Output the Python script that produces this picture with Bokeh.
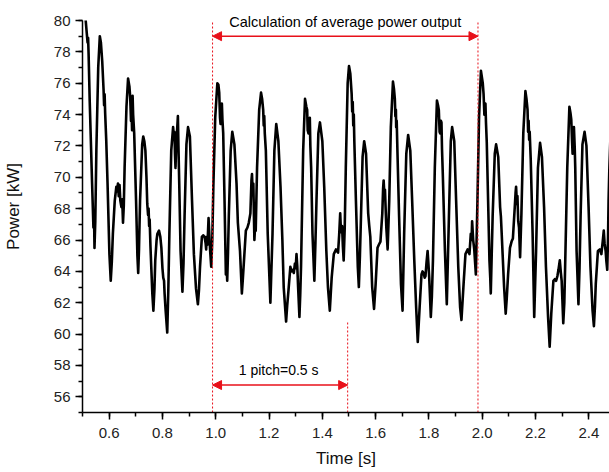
from bokeh.plotting import figure
from bokeh.models import (ColumnDataSource, Range1d, SingleIntervalTicker, PrintfTickFormatter,
                          Arrow, NormalHead, Label)
from bokeh.embed import file_html
from bokeh.resources import INLINE

# ---- data ----
time_s = [
    0.512, 0.516, 0.519, 0.521, 0.523, 0.527, 0.536, 0.541, 0.543, 0.545, 0.548, 0.552, 0.559, 0.565, 0.569,
    0.574, 0.579, 0.581, 0.583, 0.585, 0.589, 0.594, 0.601, 0.606, 0.610, 0.614, 0.621, 0.627, 0.630, 0.633,
    0.636, 0.639, 0.642, 0.646, 0.649, 0.652, 0.655, 0.658, 0.665, 0.671, 0.676, 0.679, 0.682, 0.684, 0.686,
    0.688, 0.690, 0.694, 0.701, 0.706, 0.709, 0.712, 0.716, 0.724, 0.728, 0.732, 0.736, 0.740, 0.743, 0.746,
    0.748, 0.750, 0.752, 0.755, 0.758, 0.762, 0.766, 0.770, 0.773, 0.778, 0.781, 0.787, 0.792, 0.796, 0.800,
    0.803, 0.806, 0.808, 0.812, 0.818, 0.822, 0.826, 0.833, 0.840, 0.843, 0.845, 0.847, 0.849, 0.851, 0.853,
    0.855, 0.858, 0.860, 0.863, 0.868, 0.875, 0.879, 0.883, 0.890, 0.896, 0.903, 0.911, 0.918, 0.926, 0.933,
    0.937, 0.941, 0.948, 0.953, 0.958, 0.962, 0.964, 0.966, 0.969, 0.973, 0.976, 0.979, 0.983,
    0.987, 0.991, 0.998, 1.006, 1.010, 1.013, 1.016, 1.018, 1.020, 1.023, 1.025, 1.028, 1.033, 1.038, 1.040,
    1.043, 1.046, 1.049, 1.056, 1.062, 1.070, 1.078, 1.083, 1.091, 1.098, 1.102, 1.106, 1.113, 1.119, 1.124,
    1.130, 1.134, 1.136, 1.138, 1.141, 1.143, 1.145, 1.148, 1.150, 1.155, 1.163, 1.170, 1.174, 1.178, 1.180,
    1.182, 1.184, 1.188, 1.195, 1.205, 1.213, 1.220, 1.227, 1.235, 1.243, 1.250, 1.255, 1.264, 1.268, 1.273,
    1.280, 1.284, 1.288, 1.293, 1.297, 1.300, 1.303, 1.306, 1.309, 1.314, 1.317, 1.320, 1.328, 1.335, 1.340,
    1.343, 1.345, 1.348, 1.350, 1.353, 1.355, 1.358, 1.363, 1.370, 1.374, 1.378, 1.385, 1.391, 1.400, 1.407,
    1.415, 1.421, 1.428, 1.431, 1.435, 1.443, 1.451, 1.459, 1.463, 1.467, 1.470, 1.474, 1.477, 1.480, 1.484,
    1.488, 1.495, 1.500,
    1.505, 1.510, 1.512, 1.514, 1.516, 1.518, 1.520, 1.526, 1.533, 1.537, 1.541, 1.545, 1.551, 1.557, 1.564,
    1.572, 1.576, 1.580, 1.587, 1.594, 1.600, 1.607, 1.612, 1.618, 1.625, 1.628, 1.630, 1.633, 1.635, 1.640,
    1.645, 1.651, 1.657, 1.665, 1.669, 1.672, 1.674, 1.676, 1.677, 1.679, 1.682, 1.688, 1.695, 1.701, 1.707,
    1.715, 1.722, 1.730, 1.737, 1.745, 1.752, 1.758, 1.765, 1.772, 1.776, 1.780, 1.784, 1.787, 1.791, 1.795,
    1.798, 1.801, 1.807, 1.811, 1.815, 1.822, 1.830, 1.834, 1.837, 1.840, 1.842, 1.845, 1.847, 1.849, 1.852,
    1.860, 1.867, 1.875, 1.882, 1.887, 1.895, 1.902, 1.910, 1.917, 1.922, 1.930, 1.937, 1.945, 1.952, 1.957,
    1.960, 1.962, 1.966, 1.970, 1.976, 1.982, 1.988, 1.995, 2.002, 2.005, 2.008, 2.010, 2.012, 2.014, 2.017,
    2.022, 2.027, 2.030, 2.032, 2.035, 2.039, 2.047, 2.052, 2.060, 2.067, 2.070, 2.073, 2.082, 2.088, 2.092,
    2.097, 2.104, 2.110, 2.115, 2.122, 2.125, 2.127, 2.130, 2.132, 2.135, 2.138, 2.142, 2.147, 2.154, 2.162,
    2.166, 2.170, 2.172, 2.174, 2.176, 2.178, 2.182, 2.189, 2.195, 2.202, 2.209, 2.217, 2.224, 2.232, 2.239,
    2.247, 2.253, 2.259, 2.267, 2.272, 2.277, 2.282, 2.286, 2.291, 2.295, 2.298, 2.304, 2.308, 2.311, 2.319,
    2.327, 2.331, 2.334, 2.337, 2.339, 2.342, 2.344, 2.347, 2.349, 2.354, 2.361, 2.365, 2.369, 2.376, 2.384,
    2.391, 2.399, 2.406, 2.414, 2.419, 2.423, 2.426, 2.434, 2.441, 2.447, 2.452, 2.456, 2.459, 2.463, 2.466,
    2.469, 2.472, 2.474, 2.477, 2.482,
]
power_kw = [
    80.0, 79.2, 78.6, 78.9, 77.8, 74.9, 69.6, 66.8, 67.9, 65.5, 67.2, 71.7, 77.0, 79.0, 78.6,
    77.4, 75.6, 74.6, 75.3, 74.1, 72.4, 69.6, 65.1, 63.4, 64.6, 66.4, 68.5, 69.4, 69.1, 69.6,
    68.8, 69.5, 68.5, 68.1, 68.6, 67.1, 68.2, 70.6, 74.5, 76.3, 75.8, 75.1, 73.6, 74.2, 73.0,
    75.2, 74.0, 72.8, 68.5, 65.0, 63.9, 65.4, 68.5, 72.1, 72.6, 72.3, 71.7, 70.0, 68.3, 67.6,
    68.0, 66.9, 67.3, 65.6, 64.3, 62.6, 61.5, 62.9, 64.7, 66.0, 66.4, 66.6, 66.2, 65.5, 64.2,
    63.6, 63.4, 62.6, 61.5, 60.1, 62.8, 66.4, 71.7, 73.2, 72.6, 72.9, 71.5, 70.6, 71.8, 72.2,
    73.0, 73.9, 72.0, 69.6, 65.3, 62.7, 64.5, 67.5, 72.1, 73.2, 72.6, 68.5, 65.1, 62.9, 61.9,
    62.8, 64.3, 66.2, 66.3, 66.2, 65.8, 65.4, 66.2, 65.7, 67.4, 66.3, 65.3, 64.3,
    66.0, 69.4, 73.8, 76.0, 75.9, 75.4, 73.8, 73.4, 74.3, 74.7, 73.7, 72.8, 68.5, 63.8, 64.6,
    63.4, 65.2, 67.5, 71.7, 72.9, 72.1, 69.6, 67.1, 65.3, 62.6, 63.6, 64.7, 66.6, 66.8, 67.1,
    67.7, 69.8, 70.2, 69.3, 69.6, 67.8, 66.0, 67.0, 66.6, 70.6, 74.3, 75.4, 75.0, 74.3, 73.3,
    73.9, 72.8, 71.7, 66.4, 62.0, 66.4, 71.7, 73.4, 72.3, 69.4, 66.0, 63.0, 60.8, 61.8, 62.8,
    64.3, 64.0, 64.1, 63.9, 64.5, 64.2, 65.1, 64.3, 63.0, 61.1, 62.5, 64.3, 71.7, 75.0, 74.5,
    74.3, 73.0, 72.8, 73.6, 73.8, 72.0, 70.6, 66.4, 63.4, 65.8, 68.5, 72.8, 73.5, 72.3, 69.4,
    65.3, 63.0, 61.5, 62.4, 63.6, 65.1, 65.4, 65.2, 66.3, 67.7, 66.5, 66.9, 65.6, 64.7, 66.8,
    70.6, 76.0, 77.1,
    76.6, 75.3, 74.2, 74.8, 73.3, 74.0, 72.3, 68.5, 64.3, 63.0, 65.0, 67.5, 71.3, 72.3, 71.5,
    67.7, 66.9, 66.2, 63.0, 61.6, 63.2, 65.5, 65.7, 65.9, 67.7, 69.3, 69.8, 68.8, 69.2, 66.8,
    65.4, 68.5, 73.2, 76.1, 75.6, 75.0, 73.9, 74.3, 73.2, 73.6, 71.5, 67.5, 63.2, 61.5, 66.4,
    71.5, 72.7, 71.7, 68.5, 64.7, 61.7, 59.5, 61.7, 63.8, 64.0, 63.9, 63.6, 63.7, 64.6, 65.3,
    64.5, 63.6, 61.1, 62.4, 64.7, 70.6, 74.9, 74.6, 74.3, 72.9, 72.8, 73.6, 73.5, 71.8, 70.2,
    65.3, 61.9, 67.5, 72.3, 73.2, 72.3, 68.5, 64.3, 61.7, 60.9, 63.2, 65.1, 65.4, 65.1, 66.4,
    66.0, 67.2, 66.0, 65.4, 63.8, 68.5, 73.8, 76.8, 76.0, 75.3, 74.0, 74.4, 74.7, 73.5, 72.2,
    68.5, 64.7, 63.6, 62.6, 64.7, 67.5, 71.5, 72.1, 71.3, 68.1, 67.5, 66.4, 63.0, 61.3, 62.3,
    63.8, 65.5, 65.9, 66.1, 68.1, 69.0, 69.4, 68.3, 68.8, 67.2, 66.8, 64.9, 67.7, 72.8, 75.5,
    75.0, 74.3, 72.9, 73.6, 72.4, 72.9, 71.1, 66.4, 61.1, 65.3, 70.6, 72.2, 71.3, 68.1, 64.3,
    61.1, 59.2, 61.3, 63.4, 63.5, 63.4, 63.7, 64.1, 64.7, 63.9, 63.4, 60.7, 62.0, 64.3, 70.6,
    74.5, 74.1, 73.7, 72.3, 71.5, 72.6, 73.2, 71.9, 70.6, 65.3, 61.9, 64.2, 67.5, 72.1, 72.9,
    72.0, 68.1, 64.3, 61.5, 60.5, 61.8, 63.2, 65.3, 65.4, 65.1, 65.9, 66.6, 65.8, 65.3, 64.6,
    64.1, 66.2, 68.5, 70.6, 73.0,
]

# annotation values
calc_start = 0.988
calc_end = 1.984
pitch_end = 1.495
calc_arrow_y = 79.0
pitch_arrow_y = 56.75
pitch_line_top = 60.8
y_bottom = 55.0
y_top = 80.0
calc_text = "Calculation of average power output"
pitch_text = "1 pitch=0.5 s"

RED = "#e8101a"
FONT = "Liberation Sans"

src = ColumnDataSource(data=dict(t=time_s, p=power_kw))

p = figure(width=609, height=472, output_backend="svg", toolbar_location=None,
           x_range=Range1d(0.5, 2.4775), y_range=Range1d(55, 81.276),
           min_border_left=81, min_border_right=0, min_border_top=0, min_border_bottom=60)
p.outline_line_color = None
p.grid.grid_line_color = None
p.background_fill_color = "white"
p.border_fill_color = "white"

p.line("t", "p", source=src, line_color="black", line_width=2.6, line_join="round")

# dashed red markers
p.segment(x0=[calc_start, calc_end, pitch_end], y0=[y_bottom, y_bottom, y_bottom],
          x1=[calc_start, calc_end, pitch_end], y1=[y_top, y_top, pitch_line_top],
          line_color=RED, line_width=1, line_dash="2 2")

# arrows
for (xs, xe, yy) in ((calc_start, calc_end, calc_arrow_y), (calc_start, pitch_end, pitch_arrow_y)):
    p.add_layout(Arrow(x_start=xs, y_start=yy, x_end=xe, y_end=yy,
                       line_color=RED, line_width=1.5,
                       start=NormalHead(size=9, fill_color=RED, line_color=RED),
                       end=NormalHead(size=9, fill_color=RED, line_color=RED)))

p.add_layout(Label(x=(calc_start + calc_end) / 2, y=79.9, text=calc_text,
                   text_align="center", text_baseline="middle",
                   text_font=FONT, text_font_size="14.5px", text_color="black"))
p.add_layout(Label(x=1.236, y=57.7, text=pitch_text,
                   text_align="center", text_baseline="middle",
                   text_font=FONT, text_font_size="14px", text_color="black"))

# axes
p.xaxis.ticker = SingleIntervalTicker(interval=0.2, num_minor_ticks=2)
p.yaxis.ticker = SingleIntervalTicker(interval=2, num_minor_ticks=2)
p.yaxis.bounds = (55, 80)
p.xaxis.formatter = PrintfTickFormatter(format="%.1f")
p.yaxis.formatter = PrintfTickFormatter(format="%d")
for ax in (p.xaxis, p.yaxis):
    ax.axis_line_color = "black"
    ax.axis_line_width = 1.5
    ax.major_tick_line_color = "black"
    ax.major_tick_line_width = 1.5
    ax.minor_tick_line_color = "black"
    ax.minor_tick_line_width = 1.5
    ax.major_tick_out = 7
    ax.major_tick_in = 0
    ax.minor_tick_out = 4
    ax.minor_tick_in = 0
    ax.major_label_text_font = FONT
    ax.major_label_text_font_size = "15px"
    ax.major_label_text_color = "#222222"
    ax.axis_label_text_font = FONT
    ax.axis_label_text_font_size = "17px"
    ax.axis_label_text_font_style = "normal"
    ax.axis_label_text_color = "#111111"

p.xaxis.axis_label = "Time [s]"
p.yaxis.axis_label = "Power [kW]"
p.xaxis.major_label_standoff = 8
p.xaxis.axis_label_standoff = 8
p.yaxis.major_label_standoff = 5
p.yaxis.axis_label_standoff = 28

open("out.html", "w").write(file_html(p, INLINE))
